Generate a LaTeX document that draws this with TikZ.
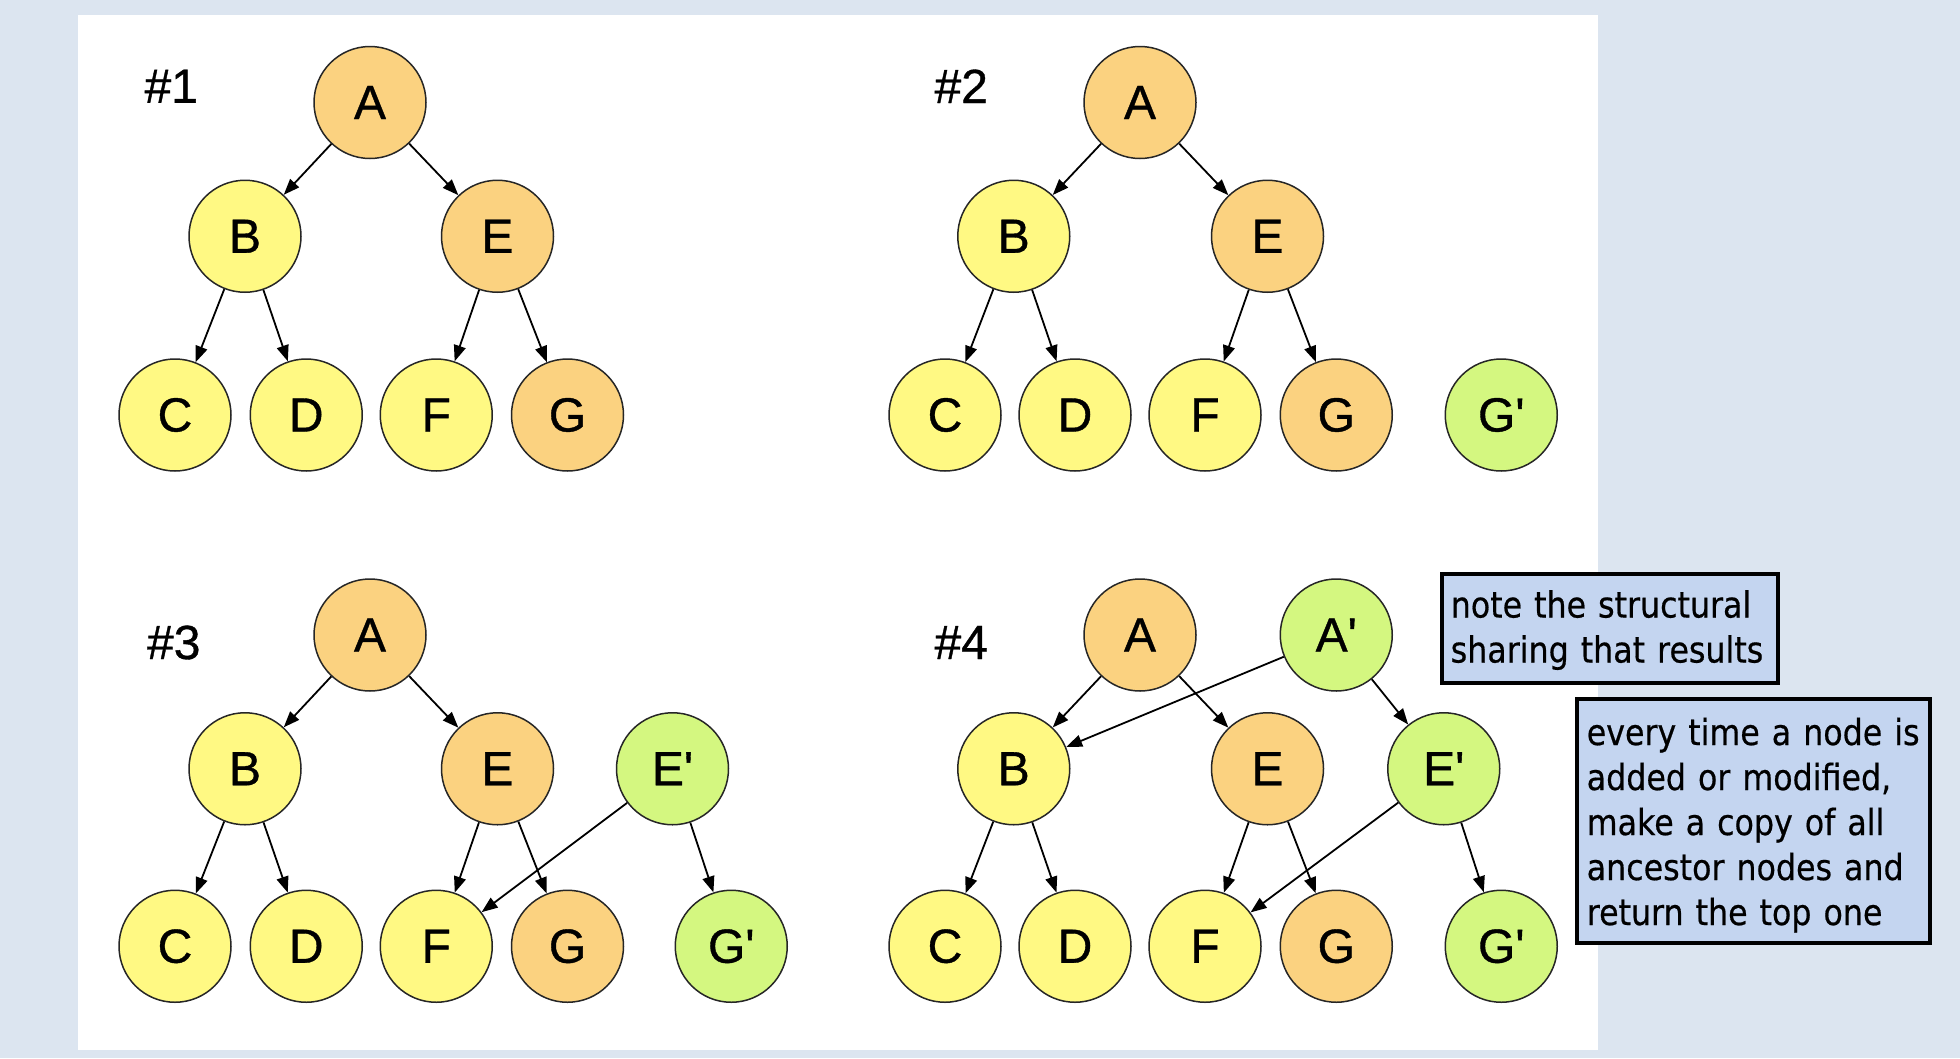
\documentclass[tikz,border=0pt]{standalone}
\usepackage{fontspec}
\setmainfont{Liberation Sans}
\newfontfamily\nodefont[FakeBold=0.8]{Liberation Sans}
\newfontfamily\boxfont[FakeStretch=0.88,FakeBold=0.5]{DejaVu Sans}
\usetikzlibrary{arrows.meta}
\definecolor{bgblue}{RGB}{220,229,240}
\definecolor{nodeorange}{RGB}{251,210,128}
\definecolor{nodeyellow}{RGB}{255,249,131}
\definecolor{nodegreen}{RGB}{212,247,128}
\definecolor{boxblue}{RGB}{196,213,240}
\newcommand\primemark{\textquotesingle}
\tikzset{
  tnode/.style={circle, draw=black!85, line width=1.5pt, minimum size=112pt, inner sep=0pt,
    font=\nodefont\fontsize{48}{48}\selectfont},
  onode/.style={tnode, fill=nodeorange},
  ynode/.style={tnode, fill=nodeyellow},
  gnode/.style={tnode, fill=nodegreen},
  tlabel/.style={font=\nodefont\fontsize{48}{48}\selectfont, inner sep=0pt},
  edge/.style={-{Triangle[length=16pt,width=12pt]}, line width=1.8pt},
  notebox/.style={draw, line width=3.5pt, fill=boxblue, inner ysep=0pt,
    align=left, anchor=north west, font=\boxfont\fontsize{36}{45}\selectfont}
}
\begin{document}
\begin{tikzpicture}[x=1.25pt,y=-1.25pt]
\fill[bgblue] (0,0) rectangle (1568,846.4);
\useasboundingbox (0,0) rectangle (1568,846.4);
\fill[white] (62,12) rectangle (1278,840);

% ---- tree #1
\node[tlabel] (l1) at (137,69) {\#1};
\node[onode] (a1) at (296,82) {A};
\node[ynode] (b1) at (196,189) {B};
\node[onode] (e1) at (398,189) {E};
\node[ynode] (c1) at (140,332) {C};
\node[ynode] (d1) at (245,332) {D};
\node[ynode] (f1) at (349,332) {F};
\node[onode] (g1) at (454,332) {G};
\draw[edge] (a1) -- (b1);
\draw[edge] (a1) -- (e1);
\draw[edge] (b1) -- (c1);
\draw[edge] (b1) -- (d1);
\draw[edge] (e1) -- (f1);
\draw[edge] (e1) -- (g1);

% ---- tree #2
\node[tlabel] (l2) at (769,69) {\#2};
\node[onode] (a2) at (912,82) {A};
\node[ynode] (b2) at (811,189) {B};
\node[onode] (e2) at (1014,189) {E};
\node[ynode] (c2) at (756,332) {C};
\node[ynode] (d2) at (860,332) {D};
\node[ynode] (f2) at (964,332) {F};
\node[onode] (g2) at (1069,332) {G};
\node[gnode] (gp2) at (1201,332) {G\primemark};
\draw[edge] (a2) -- (b2);
\draw[edge] (a2) -- (e2);
\draw[edge] (b2) -- (c2);
\draw[edge] (b2) -- (d2);
\draw[edge] (e2) -- (f2);
\draw[edge] (e2) -- (g2);

% ---- tree #3
\node[tlabel] (l3) at (139,514) {\#3};
\node[onode] (a3) at (296,508) {A};
\node[ynode] (b3) at (196,615) {B};
\node[onode] (e3) at (398,615) {E};
\node[gnode] (ep3) at (538,615) {E\primemark};
\node[ynode] (c3) at (140,757) {C};
\node[ynode] (d3) at (245,757) {D};
\node[ynode] (f3) at (349,757) {F};
\node[onode] (g3) at (454,757) {G};
\node[gnode] (gp3) at (585,757) {G\primemark};
\draw[edge] (a3) -- (b3);
\draw[edge] (a3) -- (e3);
\draw[edge] (b3) -- (c3);
\draw[edge] (b3) -- (d3);
\draw[edge] (e3) -- (f3);
\draw[edge] (e3) -- (g3);
\draw[edge] (ep3) -- (f3);
\draw[edge] (ep3) -- (gp3);

% ---- tree #4
\node[tlabel] (l4) at (769,514) {\#4};
\node[onode] (a4) at (912,508) {A};
\node[gnode] (ap4) at (1069,508) {A\primemark};
\node[ynode] (b4) at (811,615) {B};
\node[onode] (e4) at (1014,615) {E};
\node[gnode] (ep4) at (1155,615) {E\primemark};
\node[ynode] (c4) at (756,757) {C};
\node[ynode] (d4) at (860,757) {D};
\node[ynode] (f4) at (964,757) {F};
\node[onode] (g4) at (1069,757) {G};
\node[gnode] (gp4) at (1201,757) {G\primemark};
\draw[edge] (a4) -- (b4);
\draw[edge] (a4) -- (e4);
\draw[edge] (ap4) -- (b4);
\draw[edge] (ap4) -- (ep4);
\draw[edge] (b4) -- (c4);
\draw[edge] (b4) -- (d4);
\draw[edge] (e4) -- (f4);
\draw[edge] (e4) -- (g4);
\draw[edge] (ep4) -- (f4);
\draw[edge] (ep4) -- (gp4);

% ---- notes
\node[notebox, inner xsep=9pt, minimum width=336pt, minimum height=109pt, text width=318pt] (note1)
  at (1152,457.6) {\rule{0pt}{31pt}\mbox{note the structural}\\\mbox{sharing that results}};
\node[notebox, inner xsep=10pt, minimum width=353pt, minimum height=244pt, text width=333pt] (note2)
  at (1260,557.6) {\rule{0pt}{36pt}\mbox{every time a node is}\\\mbox{added or modified,}\\\mbox{make a copy of all}\\\mbox{ancestor nodes and}\\\mbox{return the top one}};
\end{tikzpicture}
\end{document}
